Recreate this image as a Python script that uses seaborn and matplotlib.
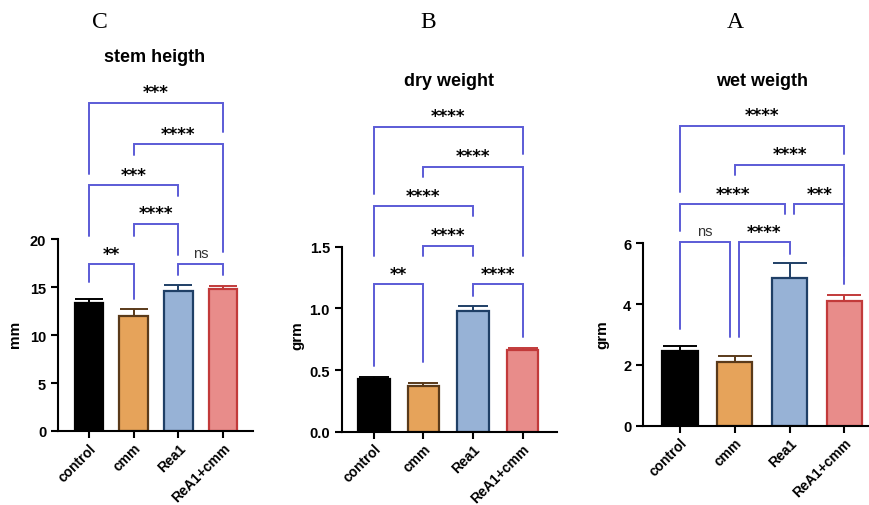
import numpy as np
import pandas as pd
import matplotlib
matplotlib.use("Agg")
import matplotlib.pyplot as plt
import seaborn as sns

categories = ["control", "cmm", "Rea1", "ReA1+cmm"]

stem_mean = [13.3, 12.0, 14.6, 14.8]
stem_err = [0.5, 0.7, 0.6, 0.35]

dry_mean = [0.427, 0.373, 0.976, 0.665]
dry_err = [0.02, 0.018, 0.04, 0.013]

wet_mean = [2.47, 2.08, 4.86, 4.11]
wet_err = [0.15, 0.2, 0.48, 0.19]

# significance brackets: (x1, x2, height, left leg end, right leg end, label)
stem_sig = [
    (0, 1, 17.4, 15.5, 13.8, "**"),
    (2, 3, 17.4, 16.2, 16.2, "ns"),
    (1, 2, 21.6, 20.3, 18.3, "****"),
    (0, 2, 25.6, 20.3, 24.5, "***"),
    (1, 3, 29.9, 28.7, 18.6, "****"),
    (0, 3, 34.2, 26.8, 31.1, "***"),
]
dry_sig = [
    (0, 1, 1.197, 0.535, 0.562, "**"),
    (2, 3, 1.197, 1.10, 0.765, "****"),
    (1, 2, 1.508, 1.427, 1.427, "****"),
    (0, 2, 1.827, 1.427, 1.746, "****"),
    (1, 3, 2.149, 2.062, 1.427, "****"),
    (0, 3, 2.473, 1.927, 2.25, "****"),
]
wet_sig = [
    (0, 0.92, 6.03, 3.18, 2.91, "ns"),
    (1.08, 2, 6.03, 2.91, 5.65, "****"),
    (0, 1.92, 7.29, 6.42, 6.96, "****"),
    (2.08, 3, 7.29, 6.96, 4.66, "***"),
    (1, 3, 8.58, 8.25, 5.59, "****"),
    (0, 3, 9.87, 7.68, 8.94, "****"),
]

fills = ["#000000", "#e6a35a", "#97b2d6", "#e88c8a"]
edges = ["#000000", "#5a3a1a", "#1f3f66", "#c23a3a"]
bracket_color = "#5b5bd6"

W, H = 870, 506
sns.set_style("ticks")
plt.rcParams["font.family"] = ["Liberation Sans", "DejaVu Sans"]
plt.rcParams["text.color"] = "black"
plt.rcParams["xtick.color"] = "black"
plt.rcParams["ytick.color"] = "black"
fig = plt.figure(figsize=(W / 100, H / 100), dpi=100)


def panel(x0, x1, xlim, y0px, ppu, ytop, means, errs, sig, yticks, yfmt, ylabel,
          ylabel_xy, capsize):
    left = x0 / W
    width = (x1 - x0) / W
    bottom = (H - y0px) / H
    height = ytop * ppu / H
    ax = fig.add_axes([left, bottom, width, height])
    df = pd.DataFrame({"group": categories, "value": means})
    sns.barplot(data=df, x="group", y="value", hue="group", palette=fills,
                saturation=1, width=0.64, legend=False, ax=ax, errorbar=None)
    for i, p in enumerate(ax.patches):
        p.set_edgecolor(edges[i])
        p.set_linewidth(1.6)
    for i in range(len(categories)):
        ax.errorbar(i, means[i], yerr=[[0], [errs[i]]], color=edges[i],
                    capsize=capsize, elinewidth=1.4, capthick=1.4, zorder=1)
    for xa, xb, yy, la, lb, lab in sig:
        ax.plot([xa, xa, xb, xb], [la, yy, yy, lb], color=bracket_color,
                lw=1.4, clip_on=False, solid_joinstyle="miter")
        if lab == "ns":
            ax.annotate(lab, ((xa + xb) / 2, yy), xytext=(0, 3),
                        textcoords="offset points", ha="center", va="bottom",
                        fontsize=10.5, color="#333333")
        else:
            ax.annotate(lab, ((xa + xb) / 2, yy), xytext=(0, 1),
                        textcoords="offset points", ha="center", va="bottom",
                        fontsize=12, fontweight="bold", color="black",
                        family=["DejaVu Sans"])
    ax.set_xlim(*xlim)
    ax.set_ylim(0, ytop)
    ax.set_yticks(yticks)
    ax.set_yticklabels([yfmt.format(t) for t in yticks], fontweight="bold",
                       fontsize=10.5)
    ax.set_xticks(range(len(categories)))
    ax.set_xticklabels(categories, rotation=45, ha="right", va="top",
                       rotation_mode="anchor", fontweight="bold", fontsize=10)
    ax.set_xlabel("")
    ax.set_ylabel("")
    sns.despine(ax=ax)
    ax.spines["left"].set_bounds(0, yticks[-1])
    ax.spines["left"].set_linewidth(1.5)
    ax.spines["bottom"].set_linewidth(1.5)
    ax.spines["left"].set_color("black")
    ax.spines["bottom"].set_color("black")
    ax.tick_params(axis="both", width=1.5, length=5, color="black")
    ax.tick_params(axis="x", pad=2)
    ax.patch.set_alpha(0)
    fig.text(ylabel_xy[0] / W, 1 - ylabel_xy[1] / H, ylabel,
             rotation=90, ha="center", va="center", fontweight="bold",
             fontsize=11)
    return ax


panel(58, 253, (-0.69, 3.67), 432, 9.6, 36, stem_mean, stem_err, stem_sig,
      [0, 5, 10, 15, 20], "{:.0f}", "mm", (15, 334), 10)
panel(341.7, 556.7, (-0.65, 3.69), 432.7, 123.3, 2.7, dry_mean, dry_err,
      dry_sig, [0.0, 0.5, 1.0, 1.5], "{:.1f}", "grm", (297, 336), 11)
panel(643.3, 882.2, (-0.67, 3.69), 426.7, 30.4, 10.8, wet_mean, wet_err,
      wet_sig, [0, 2, 4, 6], "{:.0f}", "grm", (602, 335), 12)

titles = [("stem heigth", 155, 58), ("dry weight", 449, 82), ("wet weigth", 762, 82)]
for t, x, y in titles:
    fig.text(x / W, 1 - y / H, t, ha="center", va="center",
             fontweight="bold", fontsize=13)

letters = [("C", 100, 22), ("B", 428, 22), ("A", 735, 22)]
for t, x, y in letters:
    fig.text(x / W, 1 - y / H, t, ha="center", va="center",
             family=["Liberation Serif", "DejaVu Serif"], fontsize=17)

fig.savefig("out.png", dpi=100)
